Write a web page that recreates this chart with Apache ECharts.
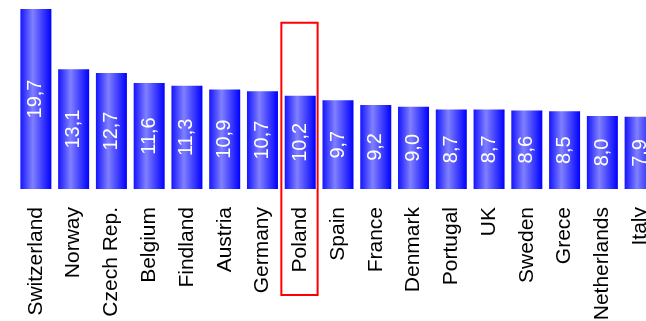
<!DOCTYPE html>
<html>
<head>
<meta charset="utf-8">
<script src="https://cdn.jsdelivr.net/npm/echarts@6/dist/echarts.min.js"></script>
<style>
  html, body { margin: 0; padding: 0; background: #fff; }
  #main { width: 646px; height: 321px; }
</style>
</head>
<body>
<div id="main"></div>
<script>
var countries = ['Switzerland', 'Norway', 'Czech Rep.', 'Belgium', 'Findland', 'Austria', 'Germany',
                 'Poland', 'Spain', 'France', 'Denmark', 'Portugal', 'UK', 'Sweden', 'Grece',
                 'Netherlands', 'Italy'];
var values = [19.7, 13.1, 12.7, 11.6, 11.3, 10.9, 10.7, 10.2, 9.7, 9.2, 9.0, 8.7, 8.7, 8.6, 8.5, 8.0, 7.9];
var highlighted = 'Poland';

var barColor = new echarts.graphic.LinearGradient(0, 0, 1, 0, [
    { offset: 0, color: '#1414ff' },
    { offset: 0.4, color: '#8080ff' },
    { offset: 1, color: '#0000ff' }
]);

var myChart = echarts.init(document.getElementById('main'));
var option = {
    animation: false,
    grid: { left: 17, top: 9, width: 642, height: 180, outerBoundsMode: 'none', containLabel: false },
    xAxis: {
        type: 'category',
        data: countries,
        axisLine: { show: false },
        axisTick: { show: false },
        axisLabel: {
            rotate: 90,
            interval: 0,
            margin: 18,
            color: '#000',
            fontSize: 21,
            fontFamily: 'Liberation Sans, Arial, sans-serif'
        }
    },
    yAxis: {
        type: 'value',
        min: 0,
        max: 19.7,
        show: false
    },
    series: [{
        type: 'bar',
        data: values,
        barWidth: 31,
        itemStyle: { color: barColor },
        label: {
            show: true,
            position: 'inside',
            rotate: 90,
            color: '#fff',
            fontSize: 20,
            fontFamily: 'Liberation Sans, Arial, sans-serif',
            formatter: function (p) { return p.value.toFixed(1).replace('.', ','); }
        }
    }]
};
myChart.setOption(option);

// red frame around the highlighted category, placed from the axis scales
var cx = myChart.convertToPixel({ xAxisIndex: 0 }, highlighted);
var cNext = myChart.convertToPixel({ xAxisIndex: 0 }, countries[countries.indexOf(highlighted) + 1]);
var band = cNext - cx;
var yTop = myChart.convertToPixel({ yAxisIndex: 0 }, 18.2);
myChart.setOption({
    graphic: [{
        type: 'rect',
        shape: { x: cx - band / 2, y: yTop, width: band - 1.5, height: 295 - yTop },
        style: { fill: 'none', stroke: '#ff0000', lineWidth: 2 },
        z: 10
    }]
});
</script>
</body>
</html>
